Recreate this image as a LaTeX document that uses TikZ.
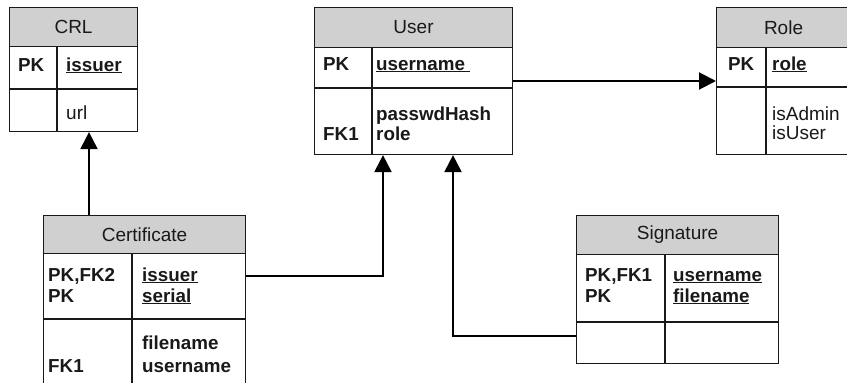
\documentclass[tikz,border=0pt]{standalone}
\usepackage{fontspec}
\setmainfont{Liberation Sans}
\usetikzlibrary{arrows.meta}
\definecolor{headgray}{RGB}{208,208,208}
\definecolor{ink}{RGB}{25,25,25}
\begin{document}
\begin{tikzpicture}[x=1pt,y=-1pt,
  frame/.style={draw=ink, line width=1.1pt, inner sep=0, anchor=north west},
  headband/.style={frame, fill=headgray, text=ink, font=\fontsize{19}{20}\selectfont},
  txt/.style={inner sep=0, anchor=base west, text=ink, font=\fontsize{19}{20}\selectfont},
  key/.style={inner sep=0, anchor=base west, text=ink, font=\fontsize{18.8}{20}\selectfont\bfseries},
  divider/.style={draw=ink, line width=1.1pt},
  link/.style={draw=black, line width=2pt, -{Triangle[length=17pt,width=17pt]}}
]
\useasboundingbox (0,0) rectangle (847,383);
\clip (0,0) rectangle (847,383);

% ---------- CRL ----------
\node[frame, minimum width=128, minimum height=124] (crl) at (9,7) {};
\node[headband, minimum width=128, minimum height=39] (crl-h) at (9,7) {CRL};
\draw[divider] (crl.west |- 0,89) -- (crl.east |- 0,89);
\draw[divider] (57,0 |- crl-h.south) -- (57,0 |- crl.south);
\node[key] (crl-pk) at (18,71) {PK};
\node[key] (crl-a1) at (66,71) {\underline{issuer}};
\node[txt] (crl-a2) at (66,119) {url};

% ---------- User ----------
\node[frame, minimum width=198, minimum height=147] (user) at (314,7) {};
\node[headband, minimum width=198, minimum height=40] (user-h) at (314,7) {User};
\draw[divider] (user.west |- 0,88) -- (user.east |- 0,88);
\draw[divider] (372,0 |- user-h.south) -- (372,0 |- user.south);
\node[key] (user-pk) at (323,70) {PK};
\node[key] (user-a1) at (376,70) {\underline{username\ }};
\node[key] (user-a2) at (376,120) {passwdHash};
\node[key] (user-a3) at (376,140) {role};
\node[key] (user-fk) at (323,140) {FK1};

% ---------- Role ----------
\node[frame, minimum width=134, minimum height=147] (role) at (716,7) {};
\node[headband, minimum width=134, minimum height=40] (role-h) at (716,7) {Role};
\draw[divider] (role.west |- 0,87) -- (role.east |- 0,87);
\draw[divider] (766,0 |- role-h.south) -- (766,0 |- role.south);
\node[key] (role-pk) at (728,70) {PK};
\node[key] (role-a1) at (772,70) {\underline{role}};
\node[txt] (role-a2) at (772,120) {isAdmin};
\node[txt] (role-a3) at (772,139) {isUser};

% ---------- Certificate ----------
\node[frame, minimum width=202, minimum height=190] (cert) at (43,215) {};
\node[headband, minimum width=202, minimum height=38] (cert-h) at (43,215) {Certificate};
\draw[divider] (cert.west |- 0,319) -- (cert.east |- 0,319);
\draw[divider] (132,0 |- cert-h.south) -- (132,0 |- cert.south);
\node[key] (cert-k1) at (48,281) {PK,FK2};
\node[key] (cert-k2) at (48,302) {PK};
\node[key] (cert-a1) at (142,281) {\underline{issuer}};
\node[key] (cert-a2) at (142,302) {\underline{serial}};
\node[key] (cert-a3) at (142,349) {filename};
\node[key] (cert-a4) at (142,372) {username};
\node[key] (cert-fk) at (48,372) {FK1};

% ---------- Signature ----------
\node[frame, minimum width=202, minimum height=148] (sig) at (576,215) {};
\node[headband, minimum width=202, minimum height=39] (sig-h) at (576,215) {Signature};
\draw[divider] (sig.west |- 0,322) -- (sig.east |- 0,322);
\draw[divider] (665,0 |- sig-h.south) -- (665,0 |- sig.south);
\node[key] (sig-k1) at (585,281) {PK,FK1};
\node[key] (sig-k2) at (585,302) {PK};
\node[key] (sig-a1) at (673,281) {\underline{username}};
\node[key] (sig-a2) at (673,302) {\underline{filename}};

% ---------- relationships ----------
\coordinate (crl-port) at (89,0);
\coordinate (user-port1) at (383,0);
\coordinate (user-port2) at (453,0);
\coordinate (cert-port) at (0,276);
\coordinate (sig-port) at (0,336);
\coordinate (role-port) at (0,81);

\draw[link] (cert.north -| crl-port) -- (crl.south -| crl-port);
\draw[link] (cert.east |- cert-port) -| (user.south -| user-port1);
\draw[link] (sig.west |- sig-port) -| (user.south -| user-port2);
\draw[link] (user.east |- role-port) -- (role.west |- role-port);
\end{tikzpicture}
\end{document}
